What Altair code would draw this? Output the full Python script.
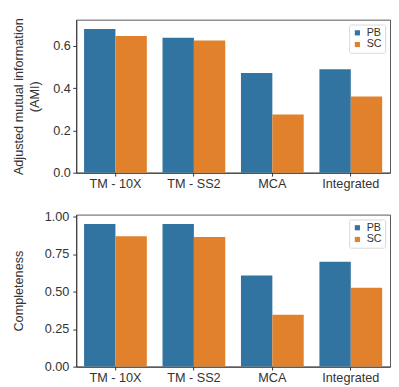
import altair as alt
import pandas as pd

categories = ["TM - 10X", "TM - SS2", "MCA", "Integrated"]
groups = ["PB", "SC"]
pb_ami = [0.68, 0.638, 0.472, 0.49]
sc_ami = [0.647, 0.626, 0.275, 0.361]
pb_comp = [0.95, 0.95, 0.607, 0.698]
sc_comp = [0.868, 0.864, 0.345, 0.525]

def frame(pb, sc):
    rows = []
    for c, a, b in zip(categories, pb, sc):
        rows.append({"cat": c, "grp": "PB", "val": a})
        rows.append({"cat": c, "grp": "SC", "val": b})
    return pd.DataFrame(rows)

FONT = "Liberation Sans"
TXT = "#333333"

def color_enc():
    return alt.Color("grp:N", scale=alt.Scale(domain=groups, range=["#3274a1", "#e1812c"]),
                     legend=alt.Legend(title=None, orient="top-right", offset=5, symbolType="square",
                                       symbolSize=28, labelFontSize=11, padding=3, rowPadding=0,
                                       labelOffset=4, strokeColor="#d8d8d8", fillColor="white",
                                       labelFont=FONT, labelColor=TXT, symbolStrokeWidth=0,
                                       cornerRadius=2))

def panel(df, title, dmax, ticks, fmt, w, h, lab_pad, title_pad):
    return alt.Chart(df).mark_bar().encode(
        x=alt.X("cat:N", sort=categories, title=None,
                scale=alt.Scale(paddingInner=0.2, paddingOuter=0.1),
                axis=alt.Axis(labelAngle=0, labelFontSize=13, labelColor=TXT, labelFont=FONT,
                              tickColor="#333333", domainColor="#333333", tickSize=3.5, labelPadding=2)),
        xOffset=alt.XOffset("grp:N", sort=groups),
        y=alt.Y("val:Q", title=title, scale=alt.Scale(domain=[0, dmax], nice=False, zero=True),
                axis=alt.Axis(values=ticks, format=fmt, grid=False, labelFontSize=13, labelColor=TXT,
                              labelFont=FONT, titleFont=FONT, titleFontSize=13, titleFontWeight="normal",
                              titleColor=TXT, tickColor="#333333", domainColor="#333333",
                              tickSize=3.5, labelPadding=lab_pad, titlePadding=title_pad,
                              titleLineHeight=16.5)),
        color=color_enc(),
    ).properties(width=w, height=h)

top = panel(frame(pb_ami, sc_ami), ["Adjusted mutual information", "(AMI)"], 0.724,
            [0.0, 0.2, 0.4, 0.6], ".1f", 322, 157, 2.5, 12)
bot = panel(frame(pb_comp, sc_comp), "Completeness", 1.013,
            [0.0, 0.25, 0.5, 0.75, 1.0], ".2f", 322, 156, 4, 19)

chart = alt.vconcat(top, bot, spacing=19).resolve_scale(color="independent").properties(
    padding={"top": 4, "left": 3, "right": 0, "bottom": 0}
).configure_view(stroke="#555555", strokeWidth=1)

chart.save("out.html", embed_options={"renderer": "svg", "actions": False})
